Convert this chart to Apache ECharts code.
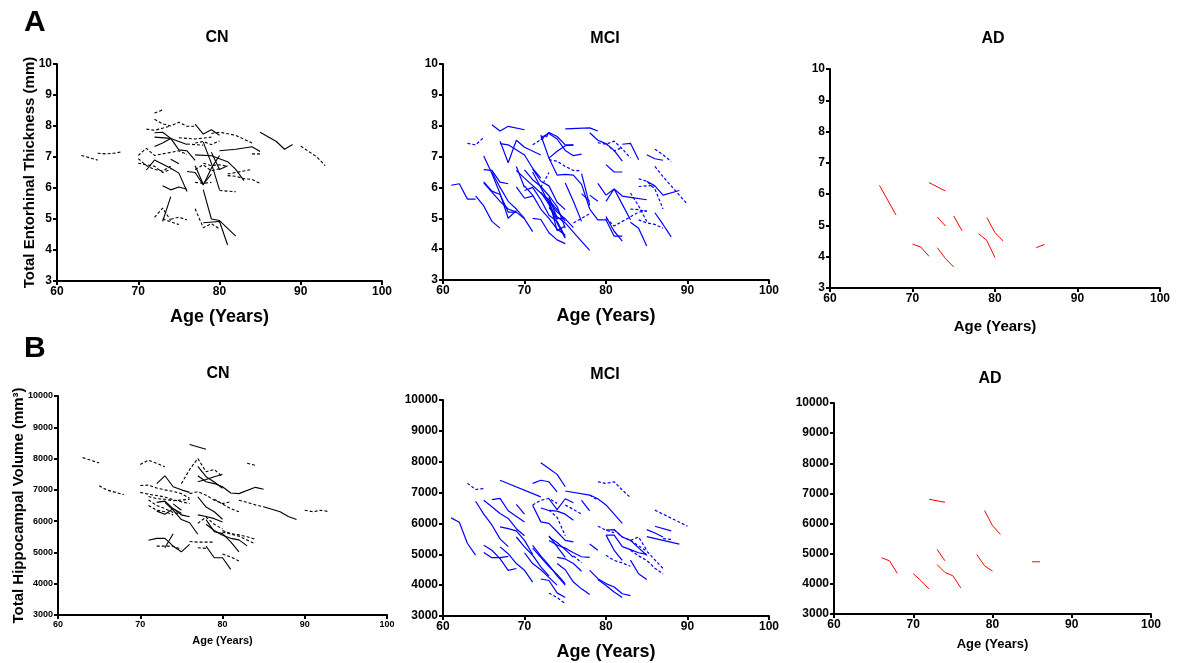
<!DOCTYPE html>
<html>
<head>
<meta charset="utf-8">
<script src="https://cdn.jsdelivr.net/npm/echarts@6/dist/echarts.min.js"></script>
<style>html,body{margin:0;padding:0;background:#fff}#c{width:1177px;height:663px}</style>
</head>
<body>
<div id="c"></div>
<script>
// ---------- DATA: each line = one subject, points are [age, value] ----------
// Panel A: Total entorhinal thickness (mm)
const entCN_solid = [
  [[72,7.78],[73,7.8],[74,7.6],[75,7.23],[76,7.2],[77,6.89]],
  [[72,7.64],[74,7.6],[76,7.4]],
  [[72,7.34],[73,7.45],[74,7.6]],
  [[71,6.58],[72,6.9],[74,6.64],[75,6.48],[76,5.89]],
  [[73,6.07],[74,5.94],[75,6.03],[76,5.96]],
  [[73,4.92],[74,5.72]],
  [[74,6.93],[75,6.78]],
  [[77,8.06],[78,7.74],[79,7.88],[80,7.7]],
  [[78,7.48],[79,6.8],[80,5.94]],
  [[80,7.2],[82,7.25],[84,7.33],[85,7.18]],
  [[77,7.07],[79,7.04],[81,6.85],[82,6.6],[83,6.24]],
  [[76,6.53],[77,6.5],[78,6.1],[79,6.64],[80,7.05]],
  [[78,5.95],[79,5.0],[80,4.95],[82,4.45]],
  [[78,4.88],[80,4.92],[81,4.16]],
  [[85,7.8],[87,7.5],[88,7.25],[89,7.4]],
  [[79,7.15],[80,6.6],[81,6.72]],
  [[77,6.72],[78,6.12],[79,6.45]]
];
const entCN_dashed = [
  [[72,8.42],[73,8.52]],
  [[72,8.22],[73,8.07],[74,8.0],[75,8.12],[76,7.99],[77,7.99]],
  [[71,7.9],[72,7.86],[73,7.93],[74,8.0]],
  [[75,7.62],[77,7.58],[79,7.64]],
  [[79,7.76],[80,7.8],[82,7.7],[84,7.45]],
  [[70,7.05],[71,7.28],[72,7.05],[74,7.15],[75,7.2],[76,7.08]],
  [[70,6.95],[71,6.72],[72,6.6],[73,6.55],[74,6.7]],
  [[70,6.8],[72,6.7],[73,6.5],[74,6.6]],
  [[77,7.45],[78,7.5],[79,7.4],[80,7.52]],
  [[77,6.6],[78,6.75],[79,6.55],[80,6.62]],
  [[78,6.8],[79,6.72],[80,6.75],[81,6.7]],
  [[77,6.18],[78,6.15],[79,6.18]],
  [[80,5.92],[81,5.9],[82,5.88]],
  [[81,6.4],[82,6.38],[83,6.3],[84,6.28],[85,6.15]],
  [[81,6.45],[82,6.5],[84,6.6]],
  [[84,7.1],[85,7.1]],
  [[72,5.05],[73,5.35],[74,4.95]],
  [[74,4.99],[75,5.06],[76,4.97]],
  [[73,5.0],[75,4.82]],
  [[77,5.33],[78,4.72],[79,4.85],[80,4.68]],
  [[90,7.35],[92,7.0],[93,6.72]],
  [[63,7.05],[65,6.9]],
  [[65,7.12],[66,7.1],[67,7.12],[68,7.17]],
  [[76,7.42],[77,7.4],[78,7.38]]
];
const entMCI_solid = [
  [[61,6.07],[62,6.12],[63,5.62],[64,5.62]],
  [[64,5.73],[65,5.4],[66,4.9],[67,4.68]],
  [[66,8.03],[67,7.83],[68,7.98],[70,7.87]],
  [[65,7.02],[66,6.45],[67,5.8],[68,5.0],[69,5.25]],
  [[65,6.58],[66,6.55],[67,6.17],[68,6.12]],
  [[65,6.18],[66,5.88],[67,5.77],[68,5.2],[69,5.2]],
  [[65,6.15],[66,5.85],[67,5.55],[68,5.3],[69,5.2],[70,4.98],[71,4.57]],
  [[67,7.5],[68,6.8],[69,7.53],[70,7.3],[72,7.05]],
  [[67,7.42],[68,7.38],[70,7.05],[71,6.62],[72,6.3]],
  [[66,6.5],[67,6.0],[68,5.55],[69,5.3],[70,5.0]],
  [[69,6.68],[70,6.0]],
  [[69,6.02],[70,5.65],[71,5.72]],
  [[69,6.55],[70,6.3],[72,5.82],[73,5.6],[74,5.28],[75,4.9]],
  [[70,6.57],[71,6.25],[72,6.03],[73,5.73],[74,5.38],[75,4.68]],
  [[71,6.6],[72,6.2],[73,6.05],[74,5.52],[75,5.28]],
  [[72,7.62],[73,7.75],[74,7.57],[75,7.2],[76,7.03],[77,7.08]],
  [[72,7.55],[73,7.78],[74,7.65],[75,7.38],[76,7.38]],
  [[73,6.95],[74,7.17],[75,7.35],[76,7.37]],
  [[72,7.7],[73,6.95],[74,6.4],[75,6.42],[76,6.4],[77,6.1],[78,5.3]],
  [[78,5.3],[79,4.95],[80,4.95],[81,4.42],[82,4.42]],
  [[75,6.14],[76,5.55],[77,4.9]],
  [[77,6.45],[78,5.42]],
  [[77,5.8],[78,5.55]],
  [[71,5.0],[72,4.96],[73,4.53],[74,4.3],[75,4.18]],
  [[73,5.35],[74,5.05],[75,4.85],[76,4.55],[77,4.25],[78,3.96]],
  [[73,5.6],[74,4.6],[75,4.75]],
  [[73,5.7],[74,5.0],[75,5.0]],
  [[72,5.85],[73,5.45],[74,4.85],[75,4.35]],
  [[73,5.55],[74,5.2],[75,4.98],[76,4.7]],
  [[70,6.05],[71,5.75],[72,5.3],[73,5.0],[74,4.65],[75,4.45]],
  [[71,6.5],[72,6.0],[73,5.5],[74,4.95]],
  [[70,5.9],[71,6.0],[72,5.6],[73,5.1],[74,4.9],[75,4.4]],
  [[75,7.9],[78,7.93],[79,7.83]],
  [[78,7.77],[79,7.53],[80,7.42],[81,7.2],[82,6.85]],
  [[82,7.4],[83,7.43],[84,6.9]],
  [[80,6.74],[81,6.5],[82,6.5]],
  [[85,7.06],[86,6.93],[87,6.88]],
  [[79,6.13],[80,5.75],[81,5.95],[82,5.72],[83,5.68],[85,5.6]],
  [[80,5.55],[81,5.95],[82,5.45],[83,4.95]],
  [[78,5.75],[79,5.55]],
  [[80,5.06],[81,4.58],[82,4.26]],
  [[83,4.87],[84,4.68],[85,4.1]],
  [[86,5.18],[87,4.8],[88,4.4]],
  [[85,6.2],[86,6.05],[87,5.75],[89,5.9]]
];
const entMCI_dashed = [
  [[63,7.43],[64,7.38],[65,7.62]],
  [[71,7.38],[72,7.55],[73,7.7]],
  [[73,6.9],[74,6.85],[75,6.68],[76,6.55],[77,6.54]],
  [[72,6.0],[73,6.48]],
  [[76,4.85],[77,5.0],[78,5.15]],
  [[79,7.45],[80,7.4],[81,7.5],[82,7.25],[83,6.95]],
  [[80,7.42],[81,7.18],[82,7.3]],
  [[86,7.24],[87,7.06],[88,6.84]],
  [[86,6.68],[87,6.35],[88,6.05],[89,5.75],[90,5.45]],
  [[80,5.0],[81,4.75],[82,4.9],[83,5.05],[84,5.2],[85,5.25]],
  [[83,5.82],[84,5.4],[85,4.9]],
  [[84,6.28],[85,6.2],[86,5.95],[87,5.3]],
  [[84,6.03],[85,6.05],[86,6.06]],
  [[83,5.3],[84,5.28],[85,5.22]],
  [[84,4.95],[85,4.85],[86,4.8],[87,4.68]]
];
const entAD_solid = [
  [[66,6.28],[68,5.33]],
  [[72,6.37],[74,6.1]],
  [[73,5.27],[74,4.98]],
  [[75,5.3],[76,4.83]],
  [[79,5.25],[80,4.77],[81,4.5]],
  [[70,4.4],[71,4.31],[72,4.01]],
  [[73,4.29],[74,3.94],[75,3.67]],
  [[78,4.74],[79,4.52],[80,3.97]],
  [[85,4.29],[86,4.39]]
];
// Panel B: Total hippocampal volume (mm3)
const hipCN_solid = [
  [[76,8450],[78,8300]],
  [[72,7200],[73,7450],[74,7100],[75,7000],[76,6920]],
  [[77,7750],[78,7420],[79,7250],[80,7050]],
  [[77,7450],[78,7260],[79,7200],[80,7100],[81,6900],[82,6880],[84,7080],[85,7020]],
  [[77,7260],[78,7330],[79,7420],[80,7490]],
  [[85,6460],[86,6380],[87,6300],[88,6150],[89,6050]],
  [[72,6600],[73,6640],[74,6400],[75,6200],[76,6140]],
  [[72,6320],[73,6220],[74,6400],[75,6250]],
  [[73,6600],[74,6350],[75,6050],[76,5950],[77,5580]],
  [[74,6550],[75,6350]],
  [[77,6780],[78,6450],[79,6300],[80,6060]],
  [[77,6200],[78,6150],[79,6080],[80,5970]],
  [[78,6050],[79,5660],[80,5600],[81,5340],[82,5020]],
  [[78,5900],[79,5700],[80,5550],[81,5450],[82,5400],[83,5210]],
  [[71,5390],[72,5450],[73,5450],[74,5200],[75,5020],[76,5260]],
  [[73,5150],[74,5600]],
  [[78,5200],[79,4830],[80,4830],[81,4460]]
];
const hipCN_dashed = [
  [[63,8030],[65,7860]],
  [[65,7130],[66,6990],[68,6850]],
  [[70,7810],[71,7950],[73,7740]],
  [[75,7200],[76,7650],[77,8000],[78,7580],[79,7650],[80,7420]],
  [[83,7850],[84,7780]],
  [[70,7140],[71,7150],[72,7060],[73,7000],[74,6950],[75,6880],[76,6730]],
  [[70,6920],[71,6860],[72,6820],[73,6770],[74,6680],[75,6620],[76,6560]],
  [[71,6790],[72,6720],[73,6700],[74,6650],[76,6700]],
  [[76,6880],[77,6940],[78,6830],[79,6670],[80,6560],[81,6620]],
  [[82,6670],[83,6600],[84,6520],[85,6460]],
  [[90,6350],[91,6300],[92,6350],[93,6300]],
  [[71,6680],[72,6500],[73,6400],[74,6280],[75,6220]],
  [[71,6500],[72,6350],[73,6300],[74,6200]],
  [[79,6700],[80,6550],[81,6400],[82,6300]],
  [[80,5700],[81,5600],[82,5560],[83,5500],[84,5420]],
  [[80,5650],[82,5520],[84,5270]],
  [[77,5930],[78,6130],[79,5900],[80,5750]],
  [[72,5200],[73,5200],[74,5200],[75,5100]],
  [[76,5350],[77,5330],[78,5330],[79,5330]],
  [[77,5150],[78,5130]],
  [[80,4950],[81,4850],[82,4730]]
];
const hipMCI_solid = [
  [[61,6180],[62,6040],[63,5350],[64,4970]],
  [[64,6720],[65,6300],[66,5950],[67,5500],[68,5250]],
  [[65,6750],[66,6540],[67,6320],[68,6160],[69,5830],[70,5600]],
  [[66,6770],[67,6810],[68,6410],[70,6050]],
  [[67,5890],[68,5830],[69,5760],[70,5450],[71,5000]],
  [[69,6620],[70,6300]],
  [[65,5290],[66,5130],[67,4860],[68,4480],[69,4540]],
  [[65,5060],[66,4890],[67,4890],[68,4930]],
  [[67,5240],[68,5020],[69,4700],[70,4480],[71,4100]],
  [[69,5560],[70,5240],[71,4970],[72,4590],[73,4300]],
  [[67,7400],[72,6860]],
  [[72,7970],[73,7780],[74,7590],[75,7190]],
  [[71,7300],[72,7400],[73,7350],[74,7020]],
  [[75,7050],[78,6920],[79,6800],[80,6600],[82,6000]],
  [[73,6800],[74,6450],[75,6800],[76,6670]],
  [[72,6500],[73,6420],[74,6400],[75,6300],[76,6100]],
  [[71,6590],[72,6050],[73,6000],[74,5730],[75,5450],[76,5400]],
  [[77,6750],[78,6410]],
  [[78,5330],[79,5130]],
  [[73,5560],[74,5380],[75,5150],[76,4900]],
  [[73,5450],[74,5300],[75,5200],[76,5050],[77,4920],[78,4900]],
  [[73,5600],[74,5250],[75,4900]],
  [[74,4900],[75,4850],[76,4700],[77,4450]],
  [[74,4700],[75,4500],[76,4100],[77,3880],[78,3700]],
  [[72,4200],[73,4150],[74,3750],[75,3600]],
  [[78,4480],[79,4210],[80,4050],[81,3940],[82,3720],[83,3660]],
  [[79,4180],[80,3990],[81,3780],[82,3600]],
  [[80,5620],[81,5620],[82,5250],[83,5150],[84,5050],[85,5000]],
  [[80,5780],[81,5800],[82,5560],[83,5450],[85,4970]],
  [[80,5620],[81,5130],[82,4800]],
  [[83,4810],[84,4370],[85,4180]],
  [[85,5800],[86,5690],[87,5560]],
  [[85,5570],[89,5330]],
  [[86,5910],[88,5760]],
  [[71,5290],[72,4950],[73,4650],[74,4300],[75,4000]],
  [[71,5200],[72,4900],[73,4600],[74,4350],[75,4050]],
  [[70,5050],[71,4700],[72,4500],[73,4250],[74,4000]]
];
const hipMCI_dashed = [
  [[63,7300],[64,7100],[65,7130]],
  [[78,6920],[79,6750]],
  [[71,6600],[72,6750],[73,6810],[74,6650]],
  [[73,6430],[74,6200],[75,5600]],
  [[75,6600],[76,6450],[77,6300]],
  [[76,4950],[77,4730]],
  [[73,3740],[74,3600],[75,3400]],
  [[79,7350],[80,7295],[81,7350],[82,7080],[83,6840]],
  [[79,5910],[80,5780],[81,5700]],
  [[80,4970],[81,4800],[82,4720],[83,4610]],
  [[81,5800],[82,5560],[83,5450],[84,5560],[85,5130]],
  [[83,5130],[84,4950],[85,4800],[86,4550],[87,4360]],
  [[83,5450],[85,5100],[87,4540]],
  [[86,6430],[90,5910]],
  [[87,5510],[88,5480]]
];
const hipAD_solid = [
  [[66,4865],[67,4765],[68,4345]],
  [[70,4340],[71,4100],[72,3830]],
  [[72,6806],[74,6706]],
  [[73,5143],[74,4765]],
  [[73,4643],[74,4378],[75,4267],[76,3867]],
  [[78,4976],[79,4599],[80,4421]],
  [[79,6429],[80,5930],[81,5641]],
  [[85,4732],[86,4732]]
];
const groupTitles = ['CN', 'MCI', 'AD'];
const panelLetters = ['A', 'B'];
const xAxisTitle = 'Age (Years)';
const yTitleA = 'Total Entorhinal Thickness (mm)';
const yTitleB = 'Total Hippocampal Volume (mm\u00b3)';
const ageRange = {min: 60, max: 100, interval: 10};
const entRange = {min: 3, max: 10, interval: 1};
const hipRange = {min: 3000, max: 10000, interval: 1000};

// ---------- LAYOUT ----------
const FONT = '"Liberation Sans", Arial, Helvetica, sans-serif';
const panels = [
  {grid:{left:57,top:64,width:325,height:217}, y:entRange, solid:entCN_solid, dashed:entCN_dashed, color:'#000000', lw:1.1,
   title:groupTitles[0], tx:217, ty:30, tfs:16, lfs:12, xnfs:18, xng:27, yname:yTitleA, ynfs:15, yng:20},
  {grid:{left:443,top:64,width:326,height:216}, y:entRange, solid:entMCI_solid, dashed:entMCI_dashed, color:'#0000ff', lw:1.2,
   title:groupTitles[1], tx:605, ty:31, tfs:16, lfs:12, xnfs:18, xng:27},
  {grid:{left:830,top:69,width:330,height:219}, y:entRange, solid:entAD_solid, dashed:[], color:'#ff0000', lw:1,
   title:groupTitles[2], tx:993, ty:31, tfs:16, lfs:12, xnfs:15, xng:31},
  {grid:{left:58,top:396,width:329,height:219}, y:hipRange, solid:hipCN_solid, dashed:hipCN_dashed, color:'#000000', lw:1.1,
   title:groupTitles[0], tx:218, ty:366, tfs:16, lfs:9, xnfs:11, xng:20, yname:yTitleB, ynfs:15, yng:32},
  {grid:{left:443,top:400,width:326,height:216}, y:hipRange, solid:hipMCI_solid, dashed:hipMCI_dashed, color:'#0000ff', lw:1.2,
   title:groupTitles[1], tx:605, ty:367, tfs:16, lfs:12, xnfs:18, xng:27},
  {grid:{left:834,top:403,width:317,height:211}, y:hipRange, solid:hipAD_solid, dashed:[], color:'#ff0000', lw:1,
   title:groupTitles[2], tx:990, ty:371, tfs:16, lfs:12, xnfs:13, xng:24}
];

const grids = [], xAxes = [], yAxes = [], series = [], titles = [];
panels.forEach((p, i) => {
  grids.push(Object.assign({outerBoundsMode:'none', containLabel:false}, p.grid));
  const axisCommon = {
    axisLine:{show:true, onZero:false, lineStyle:{color:'#000', width:2}},
    axisTick:{show:true, length:4, inside:false, lineStyle:{color:'#000', width:2}},
    splitLine:{show:false},
    axisLabel:{color:'#000', fontWeight:'bold', fontSize:p.lfs, fontFamily:FONT, margin:5,
      formatter: v => String(v)}
  };
  xAxes.push(Object.assign({}, axisCommon, {
    type:'value', gridIndex:i, min:ageRange.min, max:ageRange.max, interval:ageRange.interval,
    name:xAxisTitle, nameLocation:'middle', nameGap:p.xng, nameMoveOverlap:false,
    nameTextStyle:{color:'#000', fontWeight:'bold', fontSize:p.xnfs, fontFamily:FONT}
  }));
  const yA = Object.assign({}, axisCommon, {
    type:'value', gridIndex:i, min:p.y.min, max:p.y.max, interval:p.y.interval
  });
  if (p.yname) {
    yA.name = p.yname; yA.nameLocation = 'middle'; yA.nameGap = p.yng; yA.nameMoveOverlap = false;
    yA.nameTextStyle = {color:'#000', fontWeight:'bold', fontSize:p.ynfs, fontFamily:FONT};
  }
  yAxes.push(yA);
  const add = (lines, dashed) => lines.forEach(pts => series.push({
    type:'line', xAxisIndex:i, yAxisIndex:i, data:pts, symbol:'none', silent:true,
    animation:false, lineStyle:{color:p.color, width:p.lw, type: dashed ? [3,2] : 'solid'}
  }));
  add(p.solid, false);
  add(p.dashed, true);
  titles.push({text:p.title, left:p.tx, top:p.ty, textAlign:'center', padding:0,
    textStyle:{color:'#000', fontWeight:'bold', fontSize:p.tfs, fontFamily:FONT}});
});
titles.push({text:panelLetters[0], left:24, top:8, padding:0,
  textStyle:{color:'#000', fontWeight:'bold', fontSize:30, fontFamily:FONT}});
titles.push({text:panelLetters[1], left:24, top:334, padding:0,
  textStyle:{color:'#000', fontWeight:'bold', fontSize:30, fontFamily:FONT}});

const chart = echarts.init(document.getElementById('c'), null, {renderer:'canvas'});
chart.setOption({
  backgroundColor:'#ffffff',
  animation:false,
  title:titles,
  grid:grids,
  xAxis:xAxes,
  yAxis:yAxes,
  series:series
});
</script>
</body>
</html>
